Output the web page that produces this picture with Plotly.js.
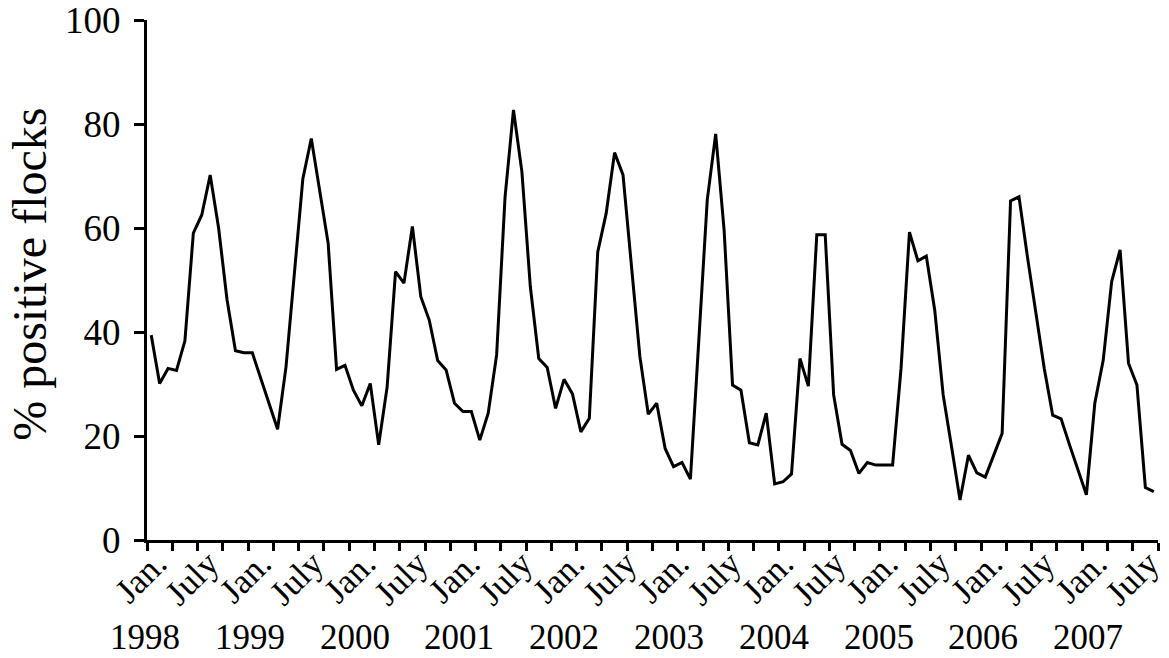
<!DOCTYPE html>
<html>
<head>
<meta charset="utf-8">
<script src="https://cdn.plot.ly/plotly-3.0.1.min.js"></script>
<style>html,body{margin:0;padding:0;background:#fff;}#chart{width:1169px;height:658px;}</style>
</head>
<body>
<div id="chart"></div>
<script>
// Monthly % positive flocks, Jan 1998 - Dec 2007
const v1998 = [39.4, 30.1, 33.0, 32.6, 38.3, 59.0, 62.5, 70.2, 60.0, 46.2, 36.4, 36.0];
const v1999 = [36.0, 31.0, 26.0, 21.3, 33.3, 51.0, 69.5, 77.2, 67.3, 57.1, 32.8, 33.6];
const v2000 = [28.8, 25.8, 30.1, 18.3, 29.4, 51.6, 49.4, 60.3, 46.8, 42.3, 34.5, 32.7];
const v2001 = [26.3, 24.7, 24.7, 19.2, 24.4, 35.6, 66.0, 82.7, 70.8, 48.7, 34.9, 33.2];
const v2002 = [25.3, 30.9, 28.1, 20.8, 23.4, 55.4, 62.8, 74.5, 70.2, 52.0, 35.3, 24.2];
const v2003 = [26.3, 17.6, 14.1, 14.9, 11.7, 38.5, 65.4, 78.1, 59.6, 29.8, 28.8, 18.7];
const v2004 = [18.3, 24.4, 10.8, 11.2, 12.7, 34.9, 29.6, 58.7, 58.7, 27.9, 18.4, 17.2];
const v2005 = [12.8, 14.9, 14.4, 14.4, 14.4, 33.0, 59.2, 53.7, 54.6, 44.2, 27.9, 17.9];
const v2006 = [7.7, 16.3, 12.9, 12.1, 16.3, 20.5, 65.2, 66.0, 54.5, 43.5, 33.0, 24.0];
const v2007 = [23.3, 18.3, 13.5, 8.7, 26.3, 34.6, 49.7, 55.8, 34.0, 29.8, 10.1, 9.3];

const years = ["1998","1999","2000","2001","2002","2003","2004","2005","2006","2007"];
const monthLabels = ["Jan.","July"];
const yTicks = [0, 20, 40, 60, 80, 100];
const yTitle = "% positive flocks";

const values = [].concat(v1998, v1999, v2000, v2001, v2002, v2003, v2004, v2005, v2006, v2007);
const months = values.map((_, i) => i);

// layout helpers (positions only)
const FONT = "'Liberation Serif', 'Times New Roman', Times, serif";
const quarterTicks = [];
for (let k = 0; k <= 40; k++) quarterTicks.push(-0.5 + 3 * k);
const labelVals = [], labelText = [];
for (let k = 0; k < years.length * 2; k++) {
  labelVals.push(0.6 + 6.2 * k);
  labelText.push(monthLabels[k % 2]);
}
const yearAnn = years.map((t, k) => ({
  text: t, xref: "paper", yref: "paper", x: (145 + 104.8 * k - 147) / 1011, y: -0.187,
  xanchor: "center", yanchor: "middle", showarrow: false,
  font: {family: FONT, size: 35, color: "#000"}
}));

const data = [
  {x: months, y: values, type: "scatter", mode: "lines",
   line: {color: "#000", width: 3}, hoverinfo: "x+y", showlegend: false},
  {x: [0], y: [null], xaxis: "x2", type: "scatter", mode: "lines", showlegend: false, hoverinfo: "skip"}
];

const layout = {
  width: 1169, height: 658,
  margin: {l: 147, r: 11, t: 20, b: 118},
  paper_bgcolor: "#fff", plot_bgcolor: "#fff",
  font: {family: FONT, color: "#000"},
  showlegend: false,
  xaxis: {
    range: [-0.5, 119.5], tickmode: "array", tickvals: quarterTicks,
    showticklabels: false, ticks: "outside", ticklen: 8, tickwidth: 3, tickcolor: "#000",
    showline: true, linecolor: "#000", linewidth: 3, showgrid: false, zeroline: false,
    fixedrange: true
  },
  xaxis2: {
    overlaying: "x", anchor: "y", side: "bottom",
    range: [-0.5, 119.5], tickmode: "array", tickvals: labelVals, ticktext: labelText,
    tickangle: -45, ticks: "", ticklen: 0, ticklabelstandoff: -5,
    ticklabeloverflow: "allow",
    showline: false, showgrid: false, zeroline: false,
    tickfont: {family: FONT, size: 35, color: "#000"}
  },
  yaxis: {
    range: [0, 100], tickmode: "array", tickvals: yTicks,
    ticks: "outside", ticklen: 10, tickwidth: 3, tickcolor: "#000",
    ticklabelstandoff: 6, ticklabeloverflow: "allow",
    showline: true, linecolor: "#000", linewidth: 3, showgrid: false, zeroline: false,
    tickfont: {family: FONT, size: 37, color: "#000"}, fixedrange: true
  },
  annotations: [
    {text: yTitle, xref: "paper", yref: "paper", x: -0.1157, y: 0.51, textangle: -90,
     xanchor: "center", yanchor: "middle", showarrow: false,
     font: {family: FONT, size: 48, color: "#000"}}
  ].concat(yearAnn)
};

Plotly.newPlot("chart", data, layout, {displayModeBar: false, staticPlot: true});
</script>
</body>
</html>
